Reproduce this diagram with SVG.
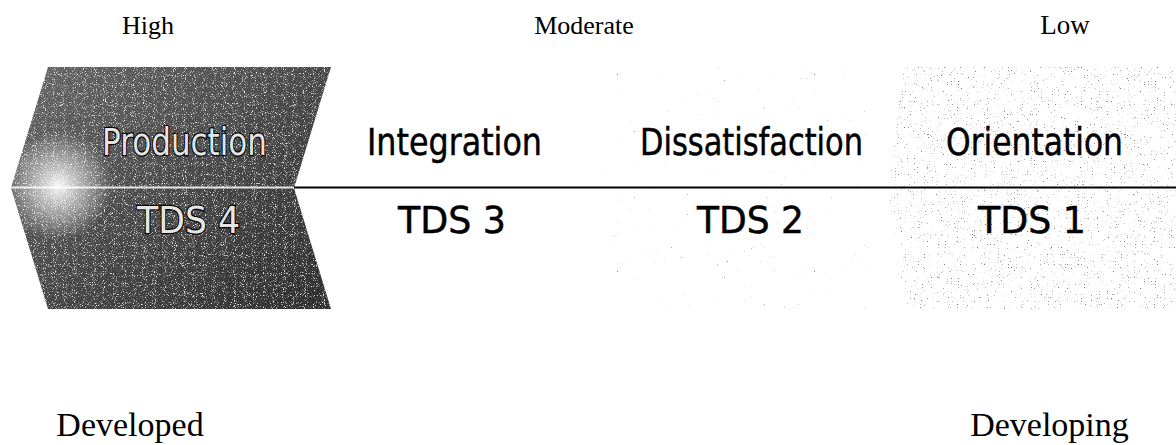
<svg xmlns="http://www.w3.org/2000/svg" width="1176" height="445" viewBox="0 0 1176 445">
  <style>
    .stage { font-family: "DejaVu Sans", Verdana, sans-serif; font-size: 37px; fill: #000; stroke: #000; stroke-width: 0.5px; text-anchor: middle; }
    .dark { fill: #e4e4e4; stroke: #000; stroke-width: 2.4px; paint-order: stroke; }
    .serif { font-family: "Liberation Serif", "Times New Roman", serif; fill: #000; text-anchor: middle; }
  </style>
  <defs>
    <linearGradient id="darkGrad" x1="0" y1="0" x2="1" y2="1">
      <stop offset="0" stop-color="#6a6a6a"/>
      <stop offset="0.5" stop-color="#4a4a4a"/>
      <stop offset="1" stop-color="#2e2e2e"/>
    </linearGradient>
    <radialGradient id="glow" cx="58" cy="186" r="55" gradientUnits="userSpaceOnUse">
      <stop offset="0" stop-color="#ffffff" stop-opacity="0.95"/>
      <stop offset="0.4" stop-color="#ffffff" stop-opacity="0.55"/>
      <stop offset="1" stop-color="#ffffff" stop-opacity="0"/>
    </radialGradient>
    <filter id="grainWhite" filterUnits="userSpaceOnUse" x="0" y="60" width="340" height="260">
      <feTurbulence type="fractalNoise" baseFrequency="1.1" numOctaves="1" seed="4" result="n"/>
      <feColorMatrix in="n" type="matrix" values="0 0 0 0 1  0 0 0 0 1  0 0 0 0 1  5 0 0 0 -2.8" result="d"/>
      <feComposite in="d" in2="SourceGraphic" operator="in"/>
    </filter>
    <filter id="speckLight" filterUnits="userSpaceOnUse" x="580" y="60" width="320" height="260">
      <feTurbulence type="fractalNoise" baseFrequency="1.3" numOctaves="1" seed="9" result="n"/>
      <feColorMatrix in="n" type="matrix" values="0 0 0 0 0.2  0 0 0 0 0.2  0 0 0 0 0.2  10 0 0 0 -7.4" result="d"/>
      <feComposite in="d" in2="SourceGraphic" operator="in"/>
    </filter>
    <filter id="speckDense" filterUnits="userSpaceOnUse" x="870" y="60" width="310" height="260">
      <feTurbulence type="fractalNoise" baseFrequency="1.3" numOctaves="1" seed="15" result="n"/>
      <feColorMatrix in="n" type="matrix" values="0 0 0 0 0.2  0 0 0 0 0.2  0 0 0 0 0.2  10 0 0 0 -6.7" result="d"/>
      <feComposite in="d" in2="SourceGraphic" operator="in"/>
    </filter>
  </defs>

  <rect width="1176" height="445" fill="#ffffff"/>

  <!-- Top scale labels -->
  <g id="label-high"><text class="serif" x="148" y="34" font-size="26">High</text></g>
  <g id="label-moderate"><text class="serif" x="584" y="34" font-size="26">Moderate</text></g>
  <g id="label-low"><text class="serif" x="1065" y="34" font-size="27">Low</text></g>

  <!-- Stage 4: Production (dark chevron) -->
  <g id="stage-tds4">
    <polygon points="48,67 331,67 294,188 331,309 48,309 11,188" fill="url(#darkGrad)"/>
    <polygon points="48,67 331,67 294,188 331,309 48,309 11,188" fill="#fff" filter="url(#grainWhite)"/>
    <polygon points="48,67 331,67 294,188 331,309 48,309 11,188" fill="url(#glow)"/>
  </g>

  <!-- Stage 2 background: light stipple -->
  <g id="stage-tds2-bg">
    <polygon points="612,67 876,67 862,188 876,309 612,309 597,188" fill="#fff" filter="url(#speckLight)"/>
  </g>

  <!-- Stage 1 background: denser stipple -->
  <g id="stage-tds1-bg">
    <polygon points="904,67 1176,67 1176,309 906,309 888,188" fill="#fff" filter="url(#speckDense)"/>
  </g>

  <!-- Axis line -->
  <g id="connectors">
    <line x1="294" y1="187.5" x2="1176" y2="187.5" stroke="#000" stroke-width="2"/>
    <line x1="11" y1="187.5" x2="294" y2="187.5" stroke="#ffffff" stroke-width="2" stroke-opacity="0.85"/>
  </g>

  <!-- Stage texts -->
  <g id="stage-tds4-text">
    <text class="stage dark" x="184.5" y="155" textLength="165" lengthAdjust="spacingAndGlyphs">Production</text>
    <text class="stage dark" x="188.5" y="233" textLength="103" lengthAdjust="spacingAndGlyphs">TDS 4</text>
  </g>
  <g id="stage-tds3">
    <text class="stage" x="454.5" y="155" textLength="175" lengthAdjust="spacingAndGlyphs">Integration</text>
    <text class="stage" x="452" y="233" textLength="108" lengthAdjust="spacingAndGlyphs">TDS 3</text>
  </g>
  <g id="stage-tds2">
    <text class="stage" x="751.5" y="155" textLength="223" lengthAdjust="spacingAndGlyphs">Dissatisfaction</text>
    <text class="stage" x="750.5" y="233" textLength="107" lengthAdjust="spacingAndGlyphs">TDS 2</text>
  </g>
  <g id="stage-tds1">
    <text class="stage" x="1034.5" y="155" textLength="177" lengthAdjust="spacingAndGlyphs">Orientation</text>
    <text class="stage" x="1032" y="233" textLength="108" lengthAdjust="spacingAndGlyphs">TDS 1</text>
  </g>

  <!-- Bottom labels -->
  <g id="label-developed"><text class="serif" x="130" y="436" font-size="34">Developed</text></g>
  <g id="label-developing"><text class="serif" x="1049.5" y="436" font-size="34">Developing</text></g>
</svg>
